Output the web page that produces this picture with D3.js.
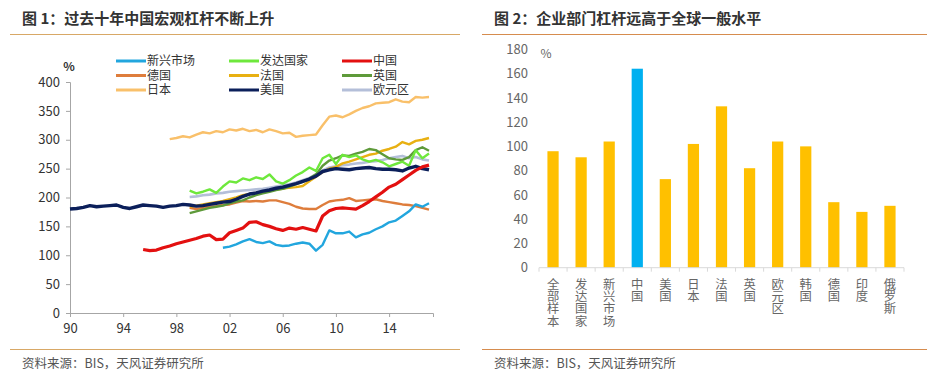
<!DOCTYPE html>
<html>
<head>
<meta charset="utf-8">
<script src="https://cdn.jsdelivr.net/npm/d3@7"></script>
<style>
  body { margin: 0; background: #fff; }
  svg { display: block; }
  text { font-family: "Noto Sans CJK SC", "Noto Sans", sans-serif; }
  .cat { writing-mode: vertical-rl; text-orientation: upright; }
</style>
</head>
<body>
<svg id="chart" width="935" height="384"></svg>
<script>
// ---- figure 1: macro leverage, semi-annual readings (% of GDP)
const step = 0.5;

const emergingStart = 2001.5;
const emerging = [113, 115, 119, 124, 128, 123, 121, 124, 118, 116, 117, 120, 122, 120, 108, 118,
  143, 138, 138, 141, 131, 136, 139, 145, 150, 157, 160, 168, 176, 188, 184, 190];

const developedStart = 1999;
const developed = [212, 207, 210, 214, 208, 219, 228, 226, 233, 230, 235, 232, 240, 228, 224, 230,
  238, 244, 252, 246, 268, 274, 258, 274, 270, 273, 266, 262, 265, 261, 254, 258, 262, 255, 282, 268, 276];

const chinaStart = 1995.5;
const china = [110, 108, 109, 113, 116, 120, 123, 126, 129, 133, 135, 127, 128, 139, 143, 147, 157, 158,
  153, 150, 146, 143, 147, 145, 148, 145, 142, 168, 177, 181, 182, 181, 180, 186, 193, 201, 209, 218,
  223, 231, 239, 247, 253, 256];

const germanyStart = 1999;
const germany = [182, 180, 182, 184, 185, 187, 188, 191, 194, 193, 194, 193, 195, 195, 192, 189, 184,
  181, 180, 180, 187, 193, 195, 196, 199, 194, 195, 196, 197, 194, 192, 190, 188, 187, 185, 182, 179];

const franceStart = 1999;
const france = [184, 186, 188, 190, 192, 194, 197, 200, 204, 206, 208, 210, 212, 214, 215, 217, 218,
  220, 228, 236, 244, 250, 253, 259, 262, 266, 270, 274, 276, 281, 284, 288, 296, 292, 298, 300, 303];

const ukStart = 1999;
const uk = [173, 176, 179, 182, 184, 186, 190, 193, 195, 200, 204, 207, 210, 213, 215, 219, 223, 227,
  233, 240, 255, 264, 268, 273, 272, 276, 279, 284, 282, 275, 268, 266, 265, 270, 282, 287, 281];

const japanStart = 1997.5;
const japan = [301, 303, 306, 304, 309, 313, 311, 315, 313, 318, 316, 319, 315, 317, 313, 318, 315,
  311, 312, 305, 307, 308, 309, 325, 340, 342, 339, 344, 350, 355, 358, 363, 364, 365, 370, 366, 365,
  374, 373, 374];

const usStart = 1990;
const us = [180, 181, 183, 186, 184, 185, 186, 187, 183, 181, 184, 187, 186, 185, 183, 185, 186, 188,
  187, 185, 186, 188, 190, 192, 193, 197, 202, 206, 208, 211, 213, 216, 218, 221, 224, 228, 232, 237,
  245, 248, 250, 249, 248, 250, 251, 252, 250, 249, 249, 248, 246, 251, 254, 250, 248];

const euroStart = 1999;
const euro = [201, 202, 204, 205, 207, 208, 210, 211, 212, 213, 214, 215, 217, 219, 221, 223, 226,
  230, 234, 240, 247, 252, 254, 256, 257, 259, 260, 262, 263, 265, 268, 270, 272, 268, 270, 266, 264];

const yearTicks = [1990, 1994, 1998, 2002, 2006, 2010, 2014];
const levelTicks = [0, 50, 100, 150, 200, 250, 300, 350, 400];

// ---- figure 2: corporate leverage
const countries = ["全部样本", "发达国家", "新兴市场", "中国", "美国", "日本", "法国", "英国", "欧元区", "韩国", "德国", "印度", "俄罗斯"];
const corporate = [96, 91, 104, 164, 73, 102, 133, 82, 104, 100, 54, 46, 51];
const corpTicks = [0, 20, 40, 60, 80, 100, 120, 140, 160, 180];

const svg = d3.select("#chart");

// series table built from the arrays above; drawing order = list order
const seriesList = [
  { name: "日本", start: japanStart, values: japan, color: "#f9c06a", width: 2.4 },
  { name: "欧元区", start: euroStart, values: euro, color: "#b4bfd9", width: 2.6 },
  { name: "德国", start: germanyStart, values: germany, color: "#de7d3c", width: 2.4 },
  { name: "法国", start: franceStart, values: france, color: "#e8b012", width: 2.4 },
  { name: "英国", start: ukStart, values: uk, color: "#5e9a3a", width: 2.4 },
  { name: "发达国家", start: developedStart, values: developed, color: "#6ee83c", width: 2.4 },
  { name: "新兴市场", start: emergingStart, values: emerging, color: "#22a6de", width: 2.4 },
  { name: "美国", start: usStart, values: us, color: "#0b1f5a", width: 3.4 },
  { name: "中国", start: chinaStart, values: china, color: "#e31010", width: 3.2 }
];
const legendOrder = ["新兴市场", "发达国家", "中国", "德国", "法国", "英国", "日本", "美国", "欧元区"];

// ---------- frames, titles, footers
function frame(x0, x1, title, lineColor) {
  svg.append("text").attr("x", x0 + 12).attr("y", 24)
    .attr("font-size", 15).attr("font-weight", 700).attr("fill", "#333")
    .text(title);
  svg.append("line").attr("x1", x0).attr("x2", x1).attr("y1", 34.5).attr("y2", 34.5)
    .attr("stroke", lineColor).attr("stroke-width", 1.2);
  svg.append("line").attr("x1", x0).attr("x2", x1).attr("y1", 349.5).attr("y2", 349.5)
    .attr("stroke", lineColor).attr("stroke-width", 1.2);
  svg.append("text").attr("x", x0 + 12).attr("y", 368)
    .attr("font-size", 12.5).attr("fill", "#555")
    .text("资料来源：BIS，天风证券研究所");
}
frame(10, 460, "图 1：过去十年中国宏观杠杆不断上升", "#d8a866");
frame(482, 927, "图 2：企业部门杠杆远高于全球一般水平", "#d68c4e");

// ---------- left: line chart
const x = d3.scaleLinear().domain([1990, 2017.3]).range([70, 433]);
const y = d3.scaleLinear().domain([0, 400]).range([313, 82]);

const gL = svg.append("g");

const yAxisL = gL.append("g").attr("transform", "translate(70,0)")
  .call(d3.axisLeft(y).tickValues(levelTicks).tickSize(4).tickPadding(6));
const xAxisL = gL.append("g").attr("transform", "translate(0,313)")
  .call(d3.axisBottom(x).tickValues(yearTicks).tickSize(4).tickPadding(7)
    .tickFormat(d => String(d).slice(2)));
[yAxisL, xAxisL].forEach(a => {
  a.select(".domain").attr("stroke", "#a6a6a6");
  a.selectAll(".tick line").attr("stroke", "#a6a6a6");
  a.selectAll(".tick text").attr("font-size", 13).attr("fill", "#333")
    .attr("font-family", "'Open Sans', sans-serif");
});

gL.append("text").attr("x", 69).attr("y", 71).attr("text-anchor", "middle")
  .attr("font-size", 12).attr("font-weight", 700).attr("fill", "#333").text("%");

const line = d3.line().x(d => x(d[0])).y(d => y(d[1]));
gL.selectAll("path.series")
  .data(seriesList)
  .join("path")
    .attr("class", "series")
    .attr("fill", "none")
    .attr("stroke", d => d.color)
    .attr("stroke-width", d => d.width)
    .attr("stroke-linejoin", "round")
    .attr("d", d => line(d.values.map((v, i) => [d.start + i * step, v])));

// legend, 3 x 3
const legendCols = [116, 229, 342];
const legendRows = [61, 75.5, 90];
const legend = gL.selectAll("g.leg")
  .data(legendOrder.map(n => seriesList.find(s => s.name === n)))
  .join("g")
    .attr("class", "leg")
    .attr("transform", (d, i) => `translate(${legendCols[i % 3]},${legendRows[Math.floor(i / 3)]})`);
legend.append("line").attr("x1", 0).attr("x2", 30)
  .attr("stroke", d => d.color).attr("stroke-width", 3);
legend.append("text").attr("x", 31).attr("dy", "0.35em")
  .attr("font-size", 12).attr("fill", "#333").text(d => d.name);

// ---------- right: bar chart
const xb = d3.scaleBand().domain(countries).range([539, 904]).paddingInner(0.6).paddingOuter(0.3);
const yb = d3.scaleLinear().domain([0, 180]).range([267.7, 49.3]);

const gR = svg.append("g");

const yAxisR = gR.append("g").attr("transform", "translate(539,0)")
  .call(d3.axisLeft(yb).tickValues(corpTicks).tickSize(0).tickPadding(11));
yAxisR.select(".domain").remove();
yAxisR.selectAll(".tick text").attr("font-size", 13).attr("fill", "#666")
  .attr("font-family", "'Open Sans', sans-serif");

gR.selectAll("rect")
  .data(countries)
  .join("rect")
    .attr("x", d => xb(d))
    .attr("width", xb.bandwidth())
    .attr("y", (d, i) => yb(corporate[i]))
    .attr("height", (d, i) => yb(0) - yb(corporate[i]))
    .attr("fill", d => d === "中国" ? "#00b0f0" : "#ffc000");

gR.append("line").attr("x1", 539).attr("x2", 904).attr("y1", yb(0)).attr("y2", yb(0))
  .attr("stroke", "#d9d9d9").attr("stroke-width", 1);
gR.selectAll("line.cell")
  .data(d3.range(countries.length + 1))
  .join("line")
    .attr("class", "cell")
    .attr("x1", i => 539 + i * xb.step()).attr("x2", i => 539 + i * xb.step())
    .attr("y1", yb(0)).attr("y2", yb(0) + 4)
    .attr("stroke", "#d9d9d9");

// vertical category labels (one text each, stacked top to bottom)
gR.selectAll("text.cat")
  .data(countries)
  .join("text")
    .attr("class", "cat")
    .attr("x", d => xb(d) + xb.bandwidth() / 2)
    .attr("y", 278)
    .attr("font-size", 12.3)
    .attr("fill", "#666")
    .text(d => d);

gR.append("text").attr("x", 546).attr("y", 58).attr("text-anchor", "middle")
  .attr("font-size", 12).attr("fill", "#666").text("%");
</script>
</body>
</html>
